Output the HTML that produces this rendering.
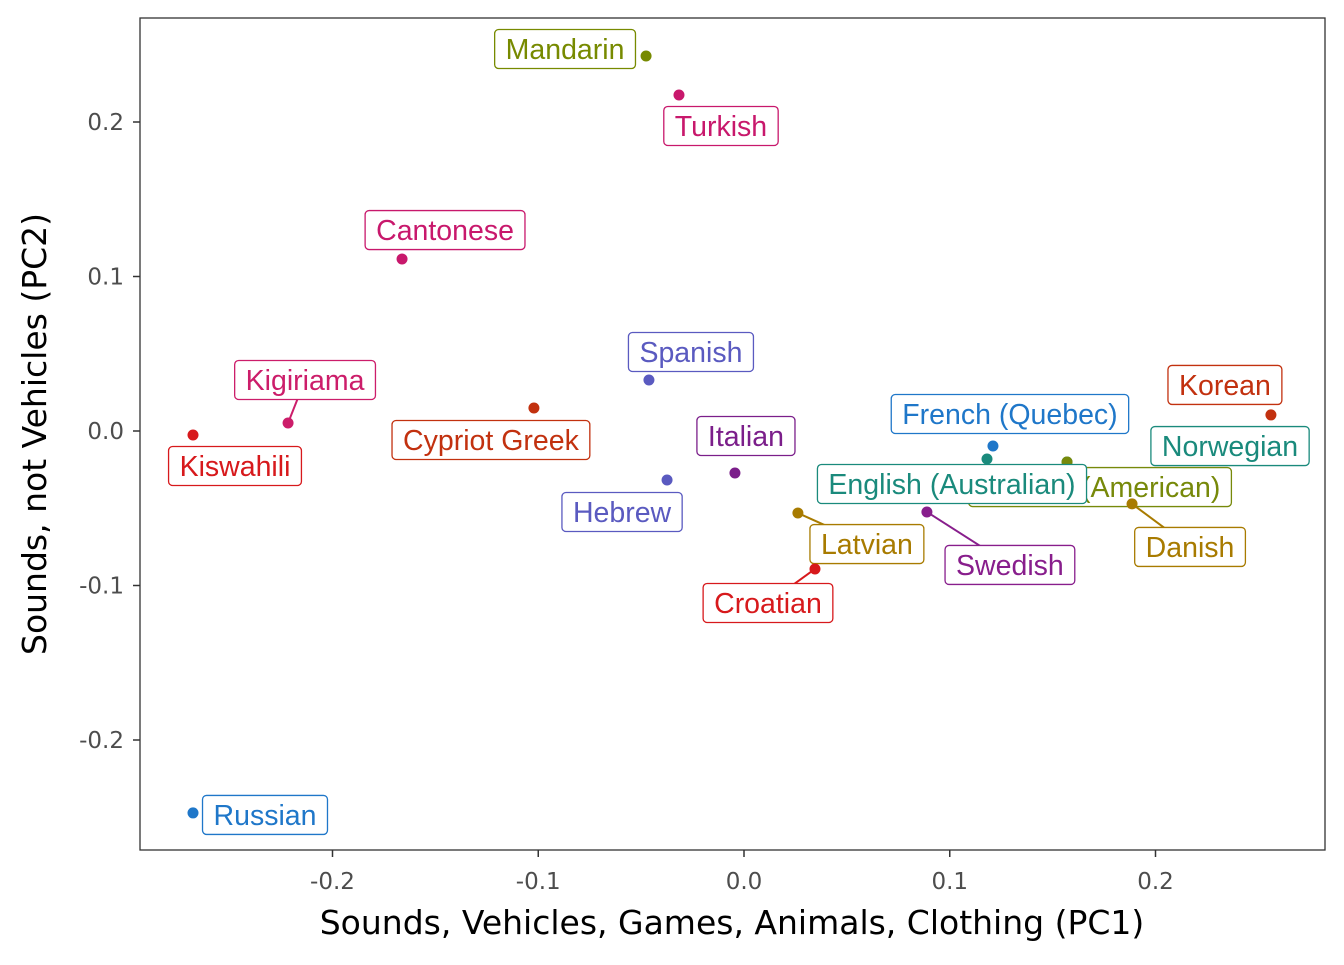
<!DOCTYPE html>
<html><head><meta charset="utf-8"><style>
body{margin:0;background:#fff}
svg text{font-family:"Liberation Sans","DejaVu Sans",sans-serif}
svg text.dv{font-family:"DejaVu Sans","Liberation Sans",sans-serif}
</style></head><body>
<svg id="chart" width="1344" height="960" viewBox="0 0 1344 960">
<rect x="0" y="0" width="1344" height="960" fill="#fff"/>
<rect x="140" y="18" width="1185" height="832" fill="#fff" stroke="#333" stroke-width="1.3"/>
<g id="axes"></g>
<g id="marks"></g>
<text class="dv" x="732" y="934" text-anchor="middle" font-size="33" fill="#000">Sounds, Vehicles, Games, Animals, Clothing (PC1)</text>
<text class="dv" transform="translate(46,434) rotate(-90)" text-anchor="middle" font-size="33" fill="#000">Sounds, not Vehicles (PC2)</text>
</svg>
<script>
const languages=["Mandarin","Turkish","Cantonese","Kigiriama","Kiswahili","Cypriot Greek","Spanish","Hebrew","Italian","Latvian","Croatian","Swedish","French (Quebec)","Norwegian","English (American)","English (Australian)","Danish","Korean","Russian"];
const pc1=[-0.0476,-0.0316,-0.1662,-0.2216,-0.2678,-0.1021,-0.0462,-0.0374,-0.0044,0.0262,0.0345,0.0889,0.1210,0.1570,0.1570,0.1181,0.1886,0.2561,-0.2678];
const pc2=[0.2427,0.2175,0.1113,0.0052,-0.0026,0.0149,0.0330,-0.0317,-0.0272,-0.0531,-0.0893,-0.0524,-0.0097,-0.0201,-0.0201,-0.0181,-0.0472,0.0104,-0.2472];
const xTicks=[-0.2,-0.1,0.0,0.1,0.2];
const yTicks=[0.2,0.1,0.0,-0.1,-0.2];
const xTickLabels=["-0.2","-0.1","0.0","0.1","0.2"];
const yTickLabels=["0.2","0.1","0.0","-0.1","-0.2"];
// layout: label offsets from point (px), colors, segment flags
const colors=["#778a00","#c8186c","#c8186c","#cc1d6a","#d7191c","#c2310f","#5a5ac0","#5a5ac0","#7b1e8a","#a87b00","#d7191c","#881e8c","#1f77c9","#1a8a7c","#77890a","#1a8a7c","#a87b00","#c2310f","#1f77c9"];
const labelDX=[-81,42,43,17,42,-43,42,-45,11,69,-47,83,17,163,33,-35,58,-46,72];
const labelDY=[-7,31,-29,-43,31,32,-28,32,-37,31,34,53,-32,-16,25,25,43,-30,2];
const seg=[0,0,0,1,0,0,0,0,0,1,1,1,0,0,0,0,1,0,0];
const X=v=>744+v*2057.5, Y=v=>431-v*1545;
const NS="http://www.w3.org/2000/svg";
function mk(t,a,p){const e=document.createElementNS(NS,t);for(const k in a)e.setAttribute(k,a[k]);p.appendChild(e);return e;}
const axes=document.getElementById('axes'),marks=document.getElementById('marks');
xTicks.forEach((v,i)=>{
 const l=mk('line',{x1:X(v),x2:X(v),y1:850,y2:857,stroke:'#333','stroke-width':1.5},axes);
 
 
 const t=mk('text',{x:X(v),y:889,'text-anchor':'middle','font-size':23,fill:'#4d4d4d','class':'dv'},axes);t.textContent=xTickLabels[i];
 
 
});
yTicks.forEach((v,i)=>{
 const l=mk('line',{x1:133,x2:140,y1:Y(v),y2:Y(v),stroke:'#333','stroke-width':1.5},axes);
 
 
 const t=mk('text',{x:124,y:Y(v)+8,'text-anchor':'end','font-size':23,fill:'#4d4d4d','class':'dv'},axes);t.textContent=yTickLabels[i];
 
 
});
languages.forEach((n,i)=>{
 const px=X(pc1[i]),py=Y(pc2[i]),lx=px+labelDX[i],ly=py+labelDY[i],c=colors[i];
 const g=mk('g',{},marks);
 
 
 if(seg[i]){const s=mk('line',{x1:px,y1:py,x2:lx,y2:ly,stroke:c,'stroke-width':2},g);
  
  }
 const d=mk('circle',{cx:px,cy:py,r:5.5,fill:c},g);
 
 
 const t=mk('text',{x:lx,y:ly+10,'text-anchor':'middle','font-size':28.5,fill:c},g);t.textContent=n;
 const w=t.getComputedTextLength()+22;
 const r=mk('rect',{x:lx-w/2,y:ly-19.5,width:w,height:39,rx:4,fill:'#fff',stroke:c,'stroke-width':1.3},g);
 
 
 g.appendChild(t);
 
 
});
</script>
</body></html>
